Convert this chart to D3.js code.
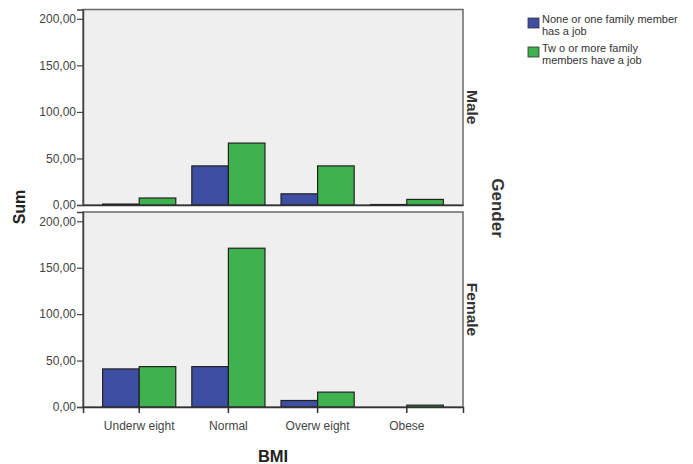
<!DOCTYPE html>
<html>
<head>
<meta charset="utf-8">
<script src="https://cdn.jsdelivr.net/npm/d3@7"></script>
<style>
  body { margin: 0; background: #fff; }
  text { font-family: "Liberation Sans", Arial, sans-serif; }
</style>
</head>
<body>
<div id="chart"></div>
<script>
// data
var categories = ['Underweight', 'Normal', 'Overweight', 'Obese'];
var categoryLabels = ['Underw eight', 'Normal', 'Overw eight', 'Obese'];
var seriesNames = ['None or one family member has a job', 'Two or more family members have a job'];
var genders = ['Male', 'Female'];
var maleNone = [1, 42, 12, 0.5];
var maleTwo = [7.5, 66.5, 42, 6];
var femaleNone = [41, 43.5, 7, 0];
var femaleTwo = [43.5, 171, 16, 2];
var yTicks = [0, 50, 100, 150, 200];

var panels = [
    { name: 'Male', none: maleNone, two: maleTwo },
    { name: 'Female', none: femaleNone, two: femaleTwo }
];
var colors = ['#3e4fa3', '#3fb24f'];

var width = 693, height = 464;
var plotLeft = 83, plotRight = 463;
var panelTops = [9.5, 212];
var panelBottoms = [205, 407];

var fmt = d3.formatLocale({ decimal: ',', thousands: '.', grouping: [3], currency: ['', ''] }).format('.2f');

var svg = d3.select('#chart').append('svg')
    .attr('width', width)
    .attr('height', height);

var x = d3.scaleBand()
    .domain(categories)
    .range([plotLeft, plotRight])
    .paddingInner(0.18)
    .paddingOuter(0.22);
var xSub = d3.scaleBand()
    .domain([0, 1])
    .range([0, x.bandwidth()]);

panels.forEach(function (p, i) {
    var y = d3.scaleLinear()
        .domain([0, 210])
        .range([panelBottoms[i], panelTops[i]]);
    var g = svg.append('g');

    g.append('rect')
        .attr('x', plotLeft)
        .attr('y', panelTops[i])
        .attr('width', plotRight - plotLeft)
        .attr('height', panelBottoms[i] - panelTops[i])
        .attr('fill', '#efefef')
        .attr('stroke', '#6a6a6a')
        .attr('stroke-width', 1.5);

    [p.none, p.two].forEach(function (vals, s) {
        g.selectAll('.bar' + s)
            .data(vals)
            .enter().append('rect')
            .attr('x', function (d, k) { return x(categories[k]) + xSub(s); })
            .attr('y', function (d) { return y(d); })
            .attr('width', xSub.bandwidth())
            .attr('height', function (d) { return y(0) - y(d); })
            .attr('fill', colors[s])
            .attr('stroke', '#222')
            .attr('stroke-width', 1.2);
    });

    var yAxis = g.append('g')
        .attr('transform', 'translate(' + plotLeft + ',0)')
        .call(d3.axisLeft(y).tickValues(yTicks).tickSize(6).tickFormat(fmt));
    yAxis.select('.domain').attr('stroke', '#444').attr('stroke-width', 1.5);
    yAxis.selectAll('line').attr('stroke', '#444').attr('stroke-width', 1.2);
    yAxis.selectAll('text')
        .attr('font-size', '12px')
        .attr('fill', '#444')
        .attr('x', -7)
        .style('font-family', '"Liberation Sans", Arial, sans-serif');

    var xAxis = g.append('g')
        .attr('transform', 'translate(0,' + panelBottoms[i] + ')')
        .call(d3.axisBottom(x).tickSize(i === 1 ? 6 : 0).tickFormat(function (d, k) { return i === 1 ? categoryLabels[k] : ''; }));
    xAxis.select('.domain').attr('stroke', '#333').attr('stroke-width', 1.5);
    xAxis.selectAll('line').attr('stroke', '#333').attr('stroke-width', 1.5);
    xAxis.selectAll('text')
        .attr('font-size', '12px')
        .attr('fill', '#444')
        .attr('dy', '1.15em')
        .style('font-family', '"Liberation Sans", Arial, sans-serif');

    // facet label on the right
    var cy = (panelTops[i] + panelBottoms[i]) / 2;
    g.append('text')
        .text(p.name)
        .attr('transform', 'translate(' + (plotRight + 4) + ',' + cy + ') rotate(90)')
        .attr('text-anchor', 'middle')
        .attr('font-size', '15.5px')
        .attr('font-weight', 'bold')
        .attr('fill', '#333');
});

// axis titles
svg.append('text')
    .text('Sum')
    .attr('transform', 'translate(25,207) rotate(-90)')
    .attr('text-anchor', 'middle')
    .attr('font-size', '16px')
    .attr('font-weight', 'bold')
    .attr('fill', '#222');
svg.append('text')
    .text('BMI')
    .attr('x', 273)
    .attr('y', 462)
    .attr('text-anchor', 'middle')
    .attr('font-size', '16.5px')
    .attr('font-weight', 'bold')
    .attr('fill', '#222');
svg.append('text')
    .text('Gender')
    .attr('transform', 'translate(492,208) rotate(90)')
    .attr('text-anchor', 'middle')
    .attr('font-size', '17px')
    .attr('font-weight', 'bold')
    .attr('fill', '#333');

// legend
var legendLines = [['None or one family member', 'has a job'], ['Tw o or more family', 'members have a job']];
var legend = svg.append('g').attr('transform', 'translate(528,18)');
legendLines.forEach(function (lines, s) {
    var lg = legend.append('g').attr('transform', 'translate(0,' + (s * 29) + ')');
    lg.append('rect')
        .attr('width', 11)
        .attr('height', 10)
        .attr('fill', colors[s])
        .attr('stroke', '#333')
        .attr('stroke-width', 0.8);
    lines.forEach(function (t, k) {
        lg.append('text')
            .text(t)
            .attr('x', 14)
            .attr('y', 5 + k * 12)
            .attr('font-size', '11px')
            .attr('fill', '#333');
    });
});
</script>
</body>
</html>
